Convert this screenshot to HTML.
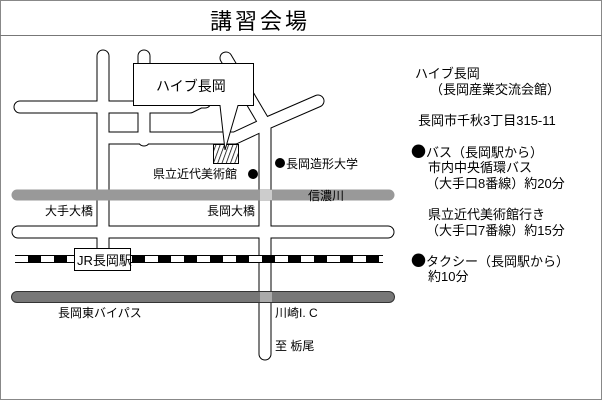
<!DOCTYPE html>
<html><head><meta charset="utf-8"><style>
html,body{margin:0;padding:0;background:#fff}
svg{display:block}
text{font-family:"Liberation Sans","Noto Sans CJK JP",sans-serif;fill:#000}
.b{font-family:"Noto Sans CJK JP",sans-serif;font-size:15px}
</style></head><body>
<svg width="602" height="400" viewBox="0 0 602 400" xmlns="http://www.w3.org/2000/svg">
<rect x="0.5" y="0.5" width="601" height="399" fill="#fff" stroke="#888" stroke-width="1"/>
<line x1="0" y1="35.5" x2="602" y2="35.5" stroke="#777" stroke-width="1"/>
<text x="260" y="29" font-size="22" text-anchor="middle" letter-spacing="3">講習会場</text>

<g stroke-linecap="round" stroke-linejoin="round" fill="none">
<g stroke="#000" stroke-width="13">
 <path d="M103,56 V255"/>
 <path d="M144,56 V140"/>
 <path d="M20,107 H190 L200,102 H205"/>
 <path d="M109,138 H235 L265,124 L318,101"/>
 <path d="M226,58 L265,124 V354"/>
 <path d="M18,232 H388"/>
</g>
<g stroke="#fff" stroke-width="11">
 <path d="M103,56 V255"/>
 <path d="M144,56 V140"/>
 <path d="M20,107 H190 L200,102 H205"/>
 <path d="M109,138 H235 L265,124 L318,101"/>
 <path d="M226,58 L265,124 V354"/>
 <path d="M18,232 H388"/>
</g>
</g>
<line x1="17" y1="195" x2="389" y2="195" stroke="#999" stroke-width="11" stroke-linecap="round"/>
<line x1="15" y1="259" x2="383" y2="259" stroke="#000" stroke-width="8"/>
<line x1="15" y1="259" x2="383" y2="259" stroke="#fff" stroke-width="6" stroke-dasharray="13,13"/>
<line x1="17" y1="297" x2="389" y2="297" stroke="#333" stroke-width="12" stroke-linecap="round"/>
<line x1="17" y1="297" x2="389" y2="297" stroke="#777" stroke-width="10" stroke-linecap="round"/>
<rect x="260" y="292" width="12" height="10" fill="#aaa"/>
<rect x="260" y="190" width="12" height="10" fill="#ccc"/>

<defs><pattern id="h" width="4" height="4" patternUnits="userSpaceOnUse" patternTransform="rotate(20)"><rect width="4" height="4" fill="#fff"/><line x1="0" y1="0" x2="0" y2="4" stroke="#000" stroke-width="1.5"/></pattern></defs>
<rect x="213.5" y="144.5" width="25" height="19" fill="url(#h)" stroke="#000"/>
<polygon points="133.5,63.5 253.5,63.5 253.5,105.5 238,105.5 225,150 220,105.5 133.5,105.5" fill="#fff" stroke="#000"/>
<text x="156" y="91" font-size="14">ハイブ長岡</text>

<rect x="74.5" y="248.5" width="56" height="22" fill="#fff" stroke="#000"/>
<text x="77" y="265" font-size="13">JR長岡駅</text>

<g font-size="12">
<text x="153" y="178">県立近代美術館</text>
<circle cx="253" cy="174" r="5"/>
<circle cx="280" cy="163" r="5"/>
<text x="286" y="168">長岡造形大学</text>
<text x="308" y="200">信濃川</text>
<text x="45" y="215">大手大橋</text>
<text x="207" y="215">長岡大橋</text>
<text x="58" y="317">長岡東バイパス</text>
<text x="275" y="317">川崎I. C</text>
<text x="275" y="350">至 栃尾</text>
</g>

<g font-size="13">
<text x="415" y="78">ハイブ長岡</text>
<text x="430" y="94">（長岡産業交流会館）</text>
<text x="418" y="125">長岡市千秋3丁目315-11</text>
<text x="411" y="157"><tspan class="b">●</tspan>バス（長岡駅から）</text>
<text x="428" y="172">市内中央循環バス</text>
<text x="426" y="188">（大手口8番線）約20分</text>
<text x="428" y="219">県立近代美術館行き</text>
<text x="426" y="235">（大手口7番線）約15分</text>
<text x="411" y="266"><tspan class="b">●</tspan>タクシー（長岡駅から）</text>
<text x="428" y="281">約10分</text>
</g>
</svg>
</body></html>
